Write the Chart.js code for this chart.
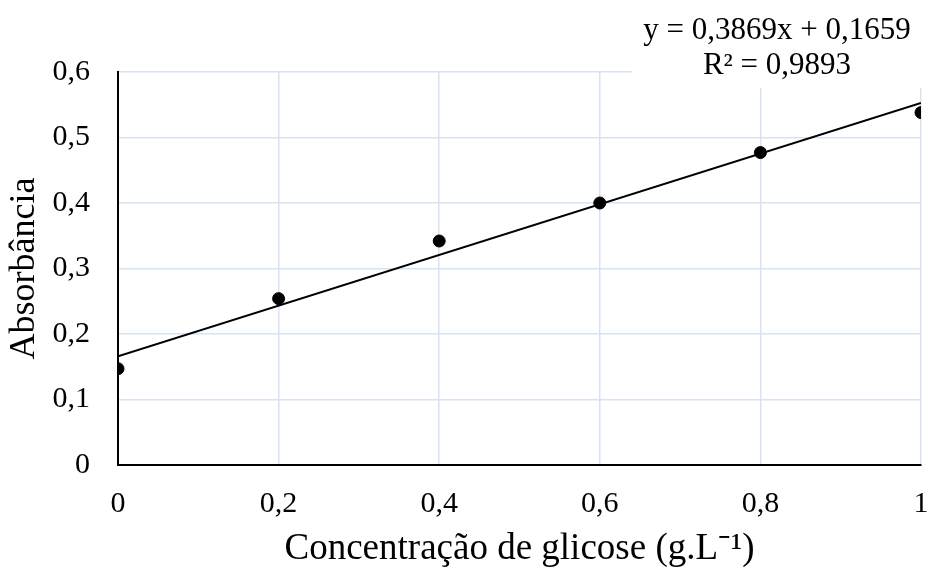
<!DOCTYPE html>
<html>
<head>
<meta charset="utf-8">
<script src="https://cdn.jsdelivr.net/npm/chart.js@4"></script>
<style>
  html, body { margin: 0; padding: 0; background: #fff; }
  #wrap { width: 928px; height: 568px; }
</style>
</head>
<body>
<div id="wrap"><canvas id="grafico"></canvas></div>
<script>
// ---------- dados ----------
const concentracoes = [0, 0.2, 0.4, 0.6, 0.8, 1];
const absorbancias = [0.147, 0.254, 0.342, 0.400, 0.477, 0.538];
const inclinacao = 0.3869;
const intercepto = 0.1659;
const textoEquacao = ["y = 0,3869x + 0,1659", "R² = 0,9893"];

const FONTE = "'Liberation Serif', 'Times New Roman', serif";
const virgula = (v) => String(Math.round(v * 10) / 10).replace(".", ",");

// ---------- caixa da equação ----------
const equacaoPlugin = {
  id: "equacao",
  afterDraw(chart) {
    const ctx = chart.ctx;
    ctx.save();
    ctx.fillStyle = "#fff";
    ctx.fillRect(632, 0, 296, 88);
    ctx.fillStyle = "#000";
    ctx.font = "31px " + FONTE;
    ctx.textAlign = "center";
    ctx.textBaseline = "middle";
    ctx.fillText(textoEquacao[0], 777, 31);
    ctx.fillText(textoEquacao[1], 777, 66);
    ctx.restore();
  }
};

const pontos = concentracoes.map((x, i) => ({ x, y: absorbancias[i] }));
const xs = [concentracoes[0], concentracoes[concentracoes.length - 1]];
const tendencia = xs.map((x) => ({ x, y: inclinacao * x + intercepto }));

new Chart(document.getElementById("grafico"), {
  type: "scatter",
  data: {
    datasets: [
      {
        label: "Tendência",
        type: "line",
        data: tendencia,
        borderColor: "#000",
        borderWidth: 2,
        pointRadius: 0,
        fill: false,
        order: 2
      },
      {
        label: "Absorbância",
        data: pontos,
        backgroundColor: "#000",
        borderColor: "#000",
        pointRadius: 6,
        order: 1
      }
    ]
  },
  options: {
    responsive: true,
    maintainAspectRatio: false,
    animation: false,
    layout: { padding: { top: 72, right: 7, left: 0, bottom: 0 } },
    plugins: {
      legend: { display: false },
      tooltip: { enabled: false }
    },
    scales: {
      x: {
        type: "linear",
        min: 0,
        max: 1,
        afterFit: (s) => {
          s.height = 103;
          s.paddingLeft = 0;
          s.paddingRight = 0;
        },
        ticks: {
          stepSize: 0.2,
          color: "#000",
          padding: 21,
          font: { family: FONTE, size: 30 },
          callback: virgula
        },
        grid: { color: "#d6e3f4", lineWidth: 1.5, drawTicks: false },
        border: { color: "#000", width: 2 },
        title: {
          display: true,
          text: "Concentração de glicose (g.L⁻¹)",
          color: "#000",
          font: { family: FONTE, size: 37 },
          padding: { top: 0, bottom: -3 }
        }
      },
      y: {
        min: 0,
        max: 0.6,
        afterFit: (s) => {
          s.width = 118;
          s.paddingTop = 0;
          s.paddingBottom = 0;
        },
        ticks: {
          stepSize: 0.1,
          color: "#000",
          padding: 28,
          font: { family: FONTE, size: 30 },
          callback: virgula
        },
        grid: { color: "#d6e3f4", lineWidth: 1.5, drawTicks: false },
        border: { color: "#000", width: 2 },
        title: {
          display: true,
          text: "Absorbância",
          color: "#000",
          font: { family: FONTE, size: 36 },
          padding: { top: 3, bottom: 0 }
        }
      }
    }
  },
  plugins: [equacaoPlugin]
});
</script>
</body>
</html>
